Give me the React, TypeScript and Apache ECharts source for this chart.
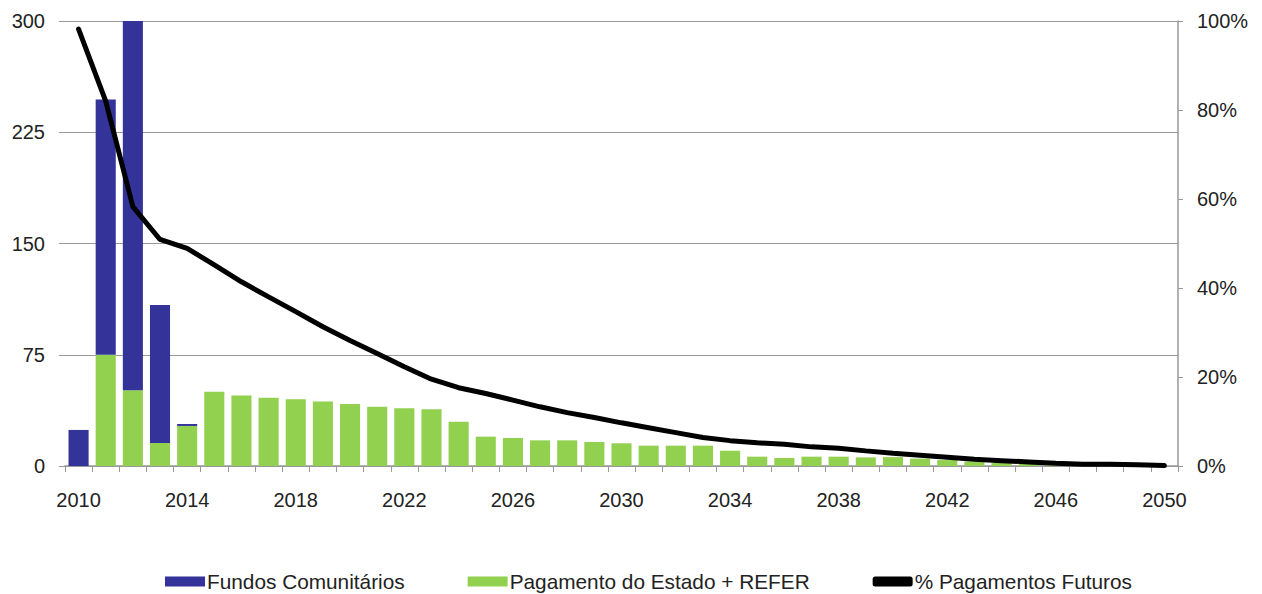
import React, { useEffect, useRef } from "react";
import * as echarts from "echarts";

const years: string[] = [];
for (let y = 2010; y <= 2050; y++) years.push(String(y));

const pagamentoEstado = [
  0, 75, 51, 15.5, 27, 50, 47.5, 46, 45, 43.4, 41.8, 40, 39, 38.2, 29.9, 19.8, 18.9, 17.3, 17.3, 16.2,
  15.3, 13.7, 13.7, 13.7, 10.3, 6.3, 5.4, 6.3, 6.3, 5.8, 6, 5, 4, 3, 2, 1.5, 1, 1, 1, 1.5, 0,
];
const fundosComunitarios = [
  24.3, 172, 249, 93, 1.3, 0, 0, 0, 0, 0, 0, 0, 0, 0, 0, 0, 0, 0, 0, 0,
  0, 0, 0, 0, 0, 0, 0, 0, 0, 0, 0, 0, 0, 0, 0, 0, 0, 0, 0, 0, 0,
];
const pagamentosFuturos = [
  98.2, 82, 58.3, 50.9, 48.9, 45.2, 41.4, 38, 34.7, 31.3, 28.2, 25.3, 22.3, 19.5, 17.6, 16.3, 14.8, 13.3, 12, 10.9,
  9.7, 8.6, 7.5, 6.4, 5.7, 5.2, 4.9, 4.3, 4, 3.4, 2.85, 2.4, 1.95, 1.5, 1.2, 0.9, 0.6, 0.4, 0.4, 0.3, 0.1,
];

export default function App() {
  const ref = useRef<HTMLDivElement>(null);
  useEffect(() => {
    if (!ref.current) return;
    const chart = echarts.init(ref.current, undefined, { renderer: "svg" });
    const font = "Liberation Sans, Arial, sans-serif";
    chart.setOption({
      animation: false,
      backgroundColor: "#ffffff",
      textStyle: { fontFamily: font },
      grid: { left: 65, right: 84, top: 21, bottom: 128, containLabel: false },
      legend: {
        top: 566,
        left: 160,
        itemWidth: 40,
        itemHeight: 10,
        itemGap: 63,
        textStyle: { fontSize: 20.8, color: "#222", fontFamily: font, padding: [0, 0, 0, -3] },
        data: [
          { name: "Fundos Comunitários", icon: "rect" },
          { name: "Pagamento do Estado + REFER", icon: "rect" },
          { name: "% Pagamentos Futuros", icon: "roundRect", itemStyle: { color: "#000" } },
        ],
      },
      xAxis: {
        type: "category",
        data: years,
        boundaryGap: true,
        axisLine: { show: true, lineStyle: { color: "#999", width: 1.5 } },
        axisTick: { show: true, alignWithLabel: false, interval: 0, length: 6, lineStyle: { color: "#999" } },
        axisLabel: { interval: 3, fontSize: 20, color: "#222", margin: 24, fontFamily: font },
      },
      yAxis: [
        {
          type: "value",
          min: 0,
          max: 300,
          interval: 75,
          axisLine: { show: false },
          axisTick: { show: true, length: 6, lineStyle: { color: "#999" } },
          axisLabel: { fontSize: 20, color: "#222", margin: 20, fontFamily: font },
          splitLine: { show: true, lineStyle: { color: "#999", width: 1.2 } },
        },
        {
          type: "value",
          min: 0,
          max: 100,
          interval: 20,
          position: "right",
          axisLine: { show: true, lineStyle: { color: "#999", width: 1.5 } },
          axisTick: { show: true, length: 5, lineStyle: { color: "#999" } },
          axisLabel: { fontSize: 20, color: "#222", margin: 19, formatter: "{value}%", fontFamily: font },
          splitLine: { show: false },
        },
      ],
      series: [
        {
          name: "Pagamento do Estado + REFER",
          type: "bar",
          stack: "total",
          data: pagamentoEstado,
          barCategoryGap: "26%",
          itemStyle: { color: "#92D050" },
        },
        {
          name: "Fundos Comunitários",
          type: "bar",
          stack: "total",
          data: fundosComunitarios,
          barCategoryGap: "26%",
          itemStyle: { color: "#333399" },
        },
        {
          name: "% Pagamentos Futuros",
          type: "line",
          yAxisIndex: 1,
          data: pagamentosFuturos,
          symbol: "none",
          lineStyle: { color: "#000", width: 5, cap: "round" },
          itemStyle: { color: "#000" },
        },
      ],
    });
    return () => chart.dispose();
  }, []);
  return <div ref={ref} style={{ width: 1262, height: 594, position: "absolute", left: 0, top: 0 }} />;
}
